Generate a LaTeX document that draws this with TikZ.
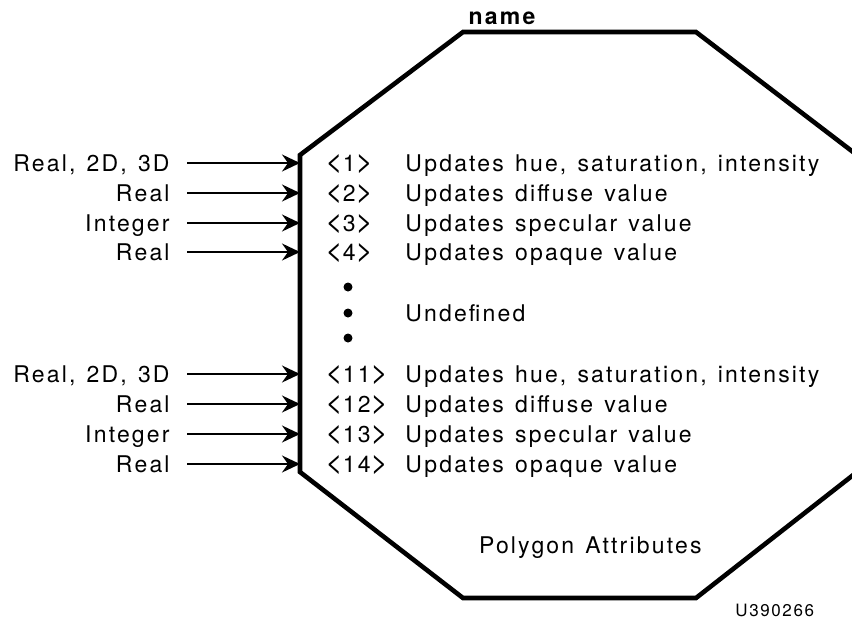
\documentclass[tikz,border=0pt]{standalone}
\usepackage{fontspec}
\setmainfont{TeX Gyre Heros}[LetterSpace=9.5,WordSpace=1.3]
\usetikzlibrary{arrows.meta,
							calc,
							positioning}
\newcommand{\lsign}{\scalebox{1.3}{<}}
\newcommand{\gsign}{\scalebox{1.3}{>}}

\begin{document}
\begin{tikzpicture}[
	x=0.5pt, y=-0.5pt,
	font=\fontsize{11.5}{14}\selectfont,
		 base/.style = {inner sep=0pt, text height=8pt, text depth=0pt},
		inlab/.style = {base, anchor=east, inner xsep=8.5pt},
		 code/.style = {base, anchor=west},
		 desc/.style = {base, anchor=west},
		 feed/.style = {line width=0.9pt,
									 -{Stealth[length=9pt,width=8.5pt,inset=3pt]}},
		 wall/.style = {line width=2.3pt, line join=miter},
	 bullet/.style = {circle, fill, inner sep=0pt, minimum size=4.5pt}]

\useasboundingbox (0,0) rectangle (852,618);

% octagon corners
\coordinate (top-l) at (463,32);
\coordinate (top-r) at (696,32);
\coordinate (rgt-t) at (857,155);
\coordinate (rgt-b) at (857,472);
\coordinate (bot-r) at (696,598);
\coordinate (bot-l) at (463,598);
\coordinate (lft-b) at (300,472);
\coordinate (lft-t) at (300,155);

\draw [wall] (top-l) -- (top-r) -- (rgt-t) -- (rgt-b)
	-- (bot-r) -- (bot-l) -- (lft-b) -- (lft-t) -- cycle;

\node [font=\fontsize{11.5}{14}\selectfont\bfseries, anchor=base]
	(title) at (502,24) {name};

%% first group
\node [inlab] (in-1) at (187,163) {Real, 2D, 3D};       % <-- in-1
\node [inlab] (in-2) at (187,193) {Real};               % <-- in-2
\node [inlab] (in-3) at (187,223) {Integer};            % <-- in-3
\node [inlab] (in-4) at (187,252) {Real};               % <-- in-4

\node [code] (c-1) at (325,163) {\lsign1\gsign};
\node [code] (c-2) at (325,193) {\lsign2\gsign};
\node [code] (c-3) at (325,223) {\lsign3\gsign};
\node [code] (c-4) at (325,252) {\lsign4\gsign};

\node [desc] (d-1) at (405,163) {Updates hue, saturation, intensity};
\node [desc] (d-2) at (405,193) {Updates diffuse value};
\node [desc] (d-3) at (405,223) {Updates specular value};
\node [desc] (d-4) at (405,252) {Updates opaque value};

%% gap
\node [bullet] (dot-1) at (348,287) {};
\node [bullet] (dot-2) at (348,313) {};
\node [bullet] (dot-3) at (348,338) {};
\node [desc] (undef) at (405,313) {Undefined};

%% second group
\node [inlab] (in-11) at (187,374) {Real, 2D, 3D};      % <-- in-11
\node [inlab] (in-12) at (187,404) {Real};              % <-- in-12
\node [inlab] (in-13) at (187,434) {Integer};           % <-- in-13
\node [inlab] (in-14) at (187,464) {Real};              % <-- in-14

\node [code] (c-11) at (325,374) {\lsign11\gsign};
\node [code] (c-12) at (325,404) {\lsign12\gsign};
\node [code] (c-13) at (325,434) {\lsign13\gsign};
\node [code] (c-14) at (325,464) {\lsign14\gsign};

\node [desc] (d-11) at (405,374) {Updates hue, saturation, intensity};
\node [desc] (d-12) at (405,404) {Updates diffuse value};
\node [desc] (d-13) at (405,434) {Updates specular value};
\node [desc] (d-14) at (405,464) {Updates opaque value};

\node [anchor=base west] (caption) at (472,553) {Polygon Attributes};
\node [anchor=base west, inner sep=0pt,
	font=\fontsize{8.5}{10}\selectfont] (tag) at (735,616) {U390266};

%%
\draw [feed] (in-1.east)  -- (in-1.east -| lft-t);
\draw [feed] (in-2.east)  -- (in-2.east -| lft-t);
\draw [feed] (in-3.east)  -- (in-3.east -| lft-t);
\draw [feed] (in-4.east)  -- (in-4.east -| lft-t);
\draw [feed] (in-11.east) -- (in-11.east -| lft-t);
\draw [feed] (in-12.east) -- (in-12.east -| lft-t);
\draw [feed] (in-13.east) -- (in-13.east -| lft-t);
\draw [feed] (in-14.east) -- (in-14.east -| lft-t);
\end{tikzpicture}
\end{document}
